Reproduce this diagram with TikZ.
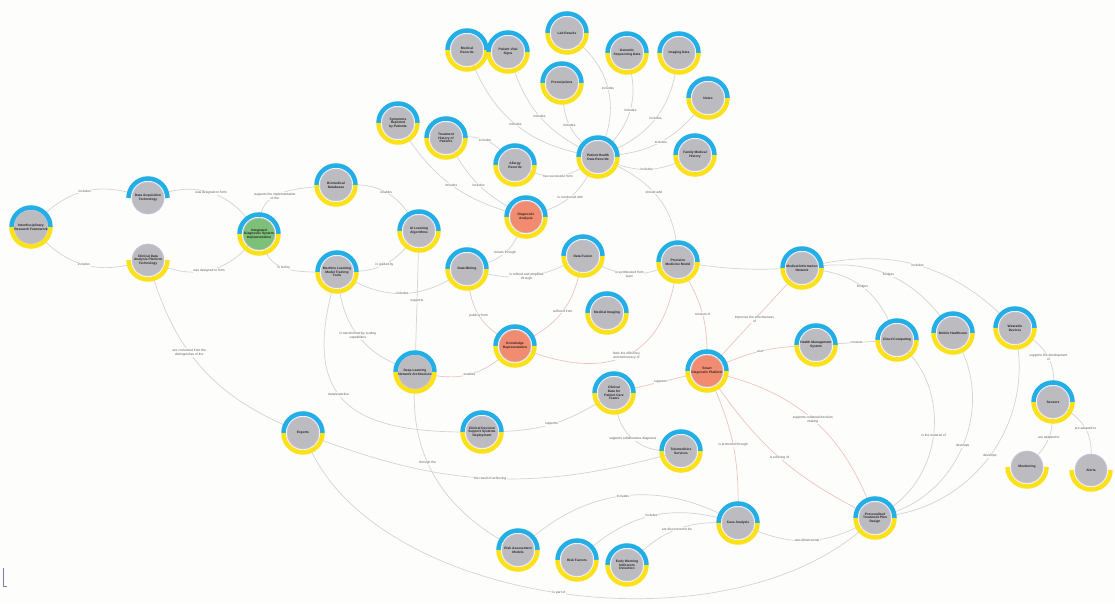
\documentclass[tikz,border=0pt]{standalone}
\usepackage{fontspec}
\setmainfont{Liberation Sans}
\usetikzlibrary{backgrounds}
\definecolor{ringblue}{RGB}{35,175,230}
\definecolor{ringyellow}{RGB}{250,225,25}
\definecolor{nodegrey}{RGB}{188,188,192}
\definecolor{nodegreen}{RGB}{125,192,120}
\definecolor{nodeorange}{RGB}{242,140,112}
\definecolor{edgegrey}{RGB}{212,212,212}
\definecolor{edgepink}{RGB}{240,196,190}
\definecolor{lblgrey}{RGB}{95,95,95}
\definecolor{bgcol}{RGB}{253,253,251}
\definecolor{nodeborder}{RGB}{205,195,228}
\definecolor{markcol}{RGB}{120,130,165}
\tikzset{
  kn/.style={circle, minimum size=32pt, inner sep=0pt, draw=nodeborder, line width=0.6pt,
    align=center, font=\fontsize{3.3}{3.8}\selectfont\bfseries, text=black!85},
  bluering/.style={draw=ringblue, line width=4.5pt},
  yelring/.style={draw=ringyellow, line width=4.5pt},
  ed/.style={draw=edgegrey, line width=0.7pt},
  edp/.style={draw=edgepink, line width=0.7pt},
  lbl/.style={font=\fontsize{3.3}{3.8}\selectfont, text=lblgrey, fill=bgcol, inner sep=0.6pt, align=center},
}
% #1 name, #2 position, #3 fill, #4 text, #5: 0 both rings, 1 blue only, 2 yellow only
\newcommand\RingNode[5]{%
  \node[kn,fill=#3] (#1) at (#2) {#4};
  \ifnum#5<2 \path[bluering] (#1.center) ++(19.5pt,0) arc[start angle=0,end angle=180,radius=19.5pt];\fi
  \ifnum#5=1 \else \path[yelring] (#1.center) ++(-19.5pt,0) arc[start angle=180,end angle=360,radius=19.5pt];\fi
}
\begin{document}
\begin{tikzpicture}[x=1pt,y=1pt]
\useasboundingbox (0,0) rectangle (1115,603);
% ---- nodes ----
\RingNode{A}{31,376}{nodegrey}{Interdisciplinary\\ Research Framework}{0}
\RingNode{B}{148,405}{nodegrey}{Data Acquisition\\ Technology}{1}
\RingNode{C}{148,343}{nodegrey}{Clinical Data\\ Analysis Platform\\ Technology}{2}
\RingNode{D}{259,369}{nodegreen}{Integrated\\ Diagnostic System\\ Implementation}{0}
\RingNode{E}{336,418}{nodegrey}{Biomedical\\ Databases}{0}
\RingNode{F}{419,372}{nodegrey}{AI Learning\\ Algorithms}{0}
\RingNode{G}{337,331}{nodegrey}{Machine Learning\\ Model Training\\ Tools}{0}
\RingNode{H}{467,334}{nodegrey}{Data Mining}{0}
\RingNode{I}{583,347}{nodegrey}{Data Fusion}{0}
\RingNode{J}{607,290}{nodegrey}{Medical Imaging}{0}
\RingNode{K}{515,257}{nodeorange}{Knowledge\\ Representation}{0}
\RingNode{L}{415,231}{nodegrey}{Deep Learning\\ Network Architecture}{0}
\RingNode{M}{482,171}{nodegrey}{Clinical Decision\\ Support Systems\\ Deployment}{0}
\RingNode{N}{678,341}{nodegrey}{Precision\\ Medicine Model}{0}
\RingNode{O}{707,232}{nodeorange}{Smart\\ Diagnostic Platform}{0}
\RingNode{P}{614,210}{nodegrey}{Clinical\\ Data for\\ Patient Care\\ Teams}{0}
\RingNode{Q}{681,152}{nodegrey}{Telemedicine\\ Services}{0}
\RingNode{R}{802,335}{nodegrey}{Medical Information\\ Network}{0}
\RingNode{S}{816,258}{nodegrey}{Health Management\\ System}{0}
\RingNode{T}{897,263}{nodegrey}{Cloud Computing}{0}
\RingNode{U}{953,270}{nodegrey}{Mobile Healthcare}{0}
\RingNode{V}{1015,275}{nodegrey}{Wearable\\ Devices}{0}
\RingNode{W}{1053,201}{nodegrey}{Sensors}{0}
\RingNode{X}{1027,136}{nodegrey}{Monitoring}{2}
\RingNode{Y}{1091,133}{nodegrey}{Alerts}{2}
\RingNode{Z}{875,85}{nodegrey}{Personalized\\ Treatment Plan\\ Design}{0}
\RingNode{AA}{738,80}{nodegrey}{Case Analysis}{0}
\RingNode{AB}{518,53}{nodegrey}{Risk Assessment\\ Models}{0}
\RingNode{AC}{577,43}{nodegrey}{Risk Factors}{0}
\RingNode{AD}{627,38}{nodegrey}{Early Warning\\ Indicators\\ Detection}{0}
\RingNode{AE}{303,170}{nodegrey}{Experts}{0}
\RingNode{T1}{467,553}{nodegrey}{Medical\\ Records}{0}
\RingNode{T2}{508,551}{nodegrey}{Patient Vital\\ Signs}{0}
\RingNode{T3}{567,570}{nodegrey}{Lab Results}{0}
\RingNode{T4}{627,550}{nodegrey}{Genomic\\ Sequencing Data}{0}
\RingNode{T5}{679,550}{nodegrey}{Imaging Data}{0}
\RingNode{T6}{562,520}{nodegrey}{Prescriptions}{0}
\RingNode{T7}{708,505}{nodegrey}{Notes}{0}
\RingNode{T8}{398,480}{nodegrey}{Symptoms\\ Reported\\ by Patients}{0}
\RingNode{T9}{446,465}{nodegrey}{Treatment\\ History of\\ Patients}{0}
\RingNode{T10}{515,438}{nodegrey}{Allergy\\ Records}{0}
\RingNode{T11}{598,446}{nodegrey}{Patient Health\\ Data Records}{0}
\RingNode{T12}{695,448}{nodegrey}{Family Medical\\ History}{0}
\RingNode{T13}{526,386}{nodeorange}{Diagnostic\\ Analysis}{0}
% ---- connectors ----
\begin{pgfonlayer}{background}
\fill[bgcol] (0,0) rectangle (1115,603);
\draw[ed] (A) to[bend left=30] node[lbl]{includes} (B);
\draw[ed] (A) to[bend right=30] node[lbl]{includes} (C);
\draw[ed] (B) to[bend left=35] node[lbl]{was designed to form} (D);
\draw[ed] (C) to[bend right=35] node[lbl]{was designed to form} (D);
\draw[ed] (D) to[out=85,in=185] node[lbl,pos=0.4]{supports the implementation\\ of the} (E);
\draw[ed] (D) to[out=-70,in=180] node[lbl,pos=0.45]{is fed by} (G);
\draw[ed] (E) to[bend left=30] node[lbl]{enables} (F);
\draw[ed] (G) to[bend right=25] node[lbl]{is guided by} (F);
\draw[ed] (G) to[bend right=30] node[lbl]{includes} (H);
\draw[ed] (H) to[bend right=25] node[lbl]{moves through} (T13);
\draw[ed] (H) to[bend right=20] node[lbl]{is refined and amplified\\ through} (I);
\draw[ed] (F) -- node[lbl]{supports} (L);
\draw[ed] (G) to[bend right=30] node[lbl]{is transformed by scaling\\ capabilities} (L);
\draw[ed] (G) to[out=255,in=180,looseness=1.5] node[lbl,pos=0.45]{data/expertise} (M);
\draw[ed] (C) to[bend right=25] node[lbl,pos=0.4]{are converted from the\\ distinguishes of the} (AE);
\draw[ed] (AE) .. controls (380,0) and (720,-50) .. node[lbl]{is part of} (Z);
\draw[ed] (AE) to[bend right=18] node[lbl]{the result of achieving} (Q);
\draw[ed] (L) to[out=268,in=150] node[lbl,pos=0.4]{through the} (AB);
\draw[edp] (L) to[bend right=25] node[lbl]{enables} (K);
\draw[edp] (H) to[bend right=25] node[lbl]{publicly from} (K);
\draw[edp] (I) to[bend left=25] node[lbl]{suffered from} (K);
\draw[ed] (N) to[bend left=25] node[lbl]{is synthesized from\\ learn} (I);
\draw[edp] (K) to[out=-20,in=260,looseness=1.3] node[lbl]{feels the efficiency\\ and democracy of} (N);
\draw[edp] (N) to[bend left=15] node[lbl]{consists of} (O);
\draw[ed] (N) to[bend right=5] (R);
\draw[ed] (T11) to[out=-25,in=95] node[lbl,pos=0.45]{should add} (N);
\draw[edp] (R) -- node[lbl]{improves the effectiveness\\ of} (O);
\draw[edp] (S) to[bend right=10] node[lbl]{and} (O);
\draw[ed] (S) -- node[lbl]{consists} (T);
\draw[ed] (R) to[bend left=30] node[lbl]{bridges} (T);
\draw[ed] (R) to[bend left=30] node[lbl]{bridges} (U);
\draw[ed] (R) to[bend left=28] node[lbl]{includes} (V);
\draw[edp] (O) -- node[lbl]{supports} (P);
\draw[ed] (P) to[bend left=15] node[lbl]{supports} (M);
\draw[ed] (P) to[bend right=40] node[lbl]{supports collaborative diagnosis} (Q);
\draw[edp] (O) to[bend left=12] node[lbl]{is promoted through} (AA);
\draw[edp] (O) to[bend right=14] node[lbl]{is evolving of} (Z);
\draw[edp] (O) to[bend left=27] node[lbl]{supports collateral decision\\ making} (Z);
\draw[ed] (T) to[bend left=50] node[lbl]{is the material of} (Z);
\draw[ed] (U) to[bend left=50] node[lbl]{develops} (Z);
\draw[ed] (V) to[bend left=45] node[lbl]{develops} (Z);
\draw[ed] (V) to[bend left=30] node[lbl]{supports the development\\ of} (W);
\draw[ed] (W) to[bend left=20] node[lbl]{are adapted to} (X);
\draw[ed] (W) to[bend left=30] node[lbl]{are adapted to} (Y);
\draw[ed] (AA) to[bend right=25] node[lbl]{two-dimensional} (Z);
\draw[ed] (AA) to[bend right=34] node[lbl]{includes} (AB);
\draw[ed] (AA) to[bend right=28] node[lbl]{includes} (AC);
\draw[ed] (AA) to[bend right=22] node[lbl]{are discovered to be} (AD);
\draw[ed] (T1) to[bend right=28] node[lbl]{includes} (T11);
\draw[ed] (T2) to[bend right=22] node[lbl]{includes} (T11);
\draw[ed] (T6) to[bend right=22] node[lbl]{includes} (T11);
\draw[ed] (T3) to[bend left=35] node[lbl]{includes} (T11);
\draw[ed] (T4) to[bend left=28] node[lbl]{includes} (T11);
\draw[ed] (T5) to[bend left=28] node[lbl]{includes} (T11);
\draw[ed] (T7) to[bend left=22] node[lbl]{includes} (T11);
\draw[ed] (T12) to[bend left=22] node[lbl]{includes} (T11);
\draw[ed] (T10) to[bend right=28] node[lbl]{has successful from} (T11);
\draw[ed] (T11) to[bend left=22] node[lbl]{is conducted with} (T13);
\draw[ed] (T8) to[bend right=20] node[lbl]{includes} (T13);
\draw[ed] (T9) to[bend right=15] node[lbl]{includes} (T13);
\draw[ed] (T9) to[bend left=25] node[lbl]{includes} (T10);
\end{pgfonlayer}
% small mark at lower left
\draw[markcol, line width=1.1pt] (3.5,35) -- (3.5,16.5) -- (7,16.5);
\end{tikzpicture}
\end{document}
